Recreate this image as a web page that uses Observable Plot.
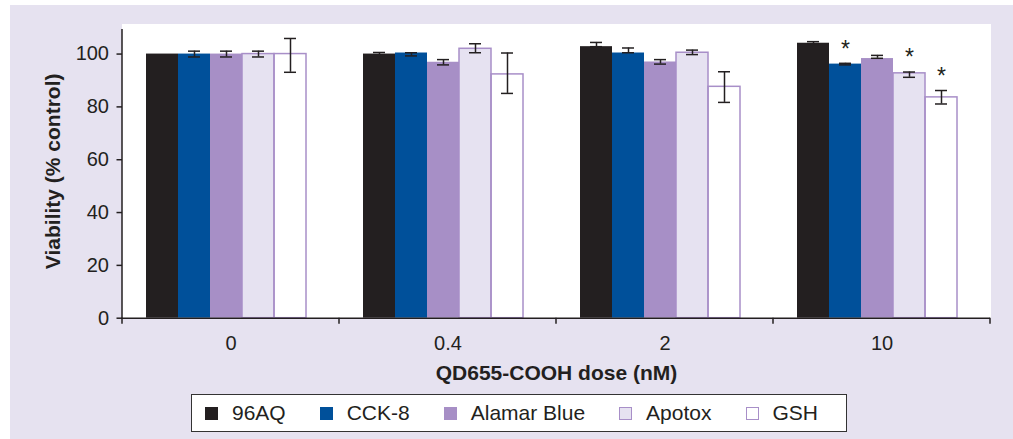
<!DOCTYPE html>
<html>
<head>
<meta charset="utf-8">
<script src="https://cdn.jsdelivr.net/npm/d3@7"></script>
<script src="https://cdn.jsdelivr.net/npm/@observablehq/plot@0.6"></script>
<style>
  body { margin: 0; background: #ffffff; font-family: "Liberation Sans", Arial, sans-serif; }
  #panel { position: absolute; left: 10px; top: 5px; width: 1003px; height: 434px; background: #e6e2f0; overflow: hidden; }
  #chart { position: absolute; left: 0; top: 0; }
  #legend { position: absolute; left: 181px; top: 389px; width: 656px; height: 38px; box-sizing: border-box;
            border: 1.5px solid #333; background: #fff; display: flex; align-items: center; padding-left: 13px;
            font-size: 21px; color: #231f20; gap: 34px; }
  .item { display: flex; align-items: center; }
  .sw { width: 13px; height: 13px; box-sizing: border-box; margin-right: 14px; }
  [aria-label="y-axis label"] text, [aria-label="fx-axis label"] text { font-weight: bold; font-size: 21px; }
</style>
</head>
<body>
<div id="panel">
  <div id="chart"></div>
  <div id="legend"></div>
</div>
<script>
// ---- data ----
const doses = ["0", "0.4", "2", "10"];
const methods = ["96AQ", "CCK-8", "Alamar Blue", "Apotox", "GSH"];
// mean viability (% control), rows = methods, columns = doses
const means = [
  [100, 100, 102.8, 104.1],
  [100, 100.4, 100.4, 96.2],
  [100, 96.9, 97.0, 98.3],
  [100, 102.0, 100.5, 92.7],
  [100, 92.3, 87.6, 83.6]
];
// lower / upper ends of the error bars
const errLow = [
  [100, 99.4, 102.8, 103.5],
  [98.9, 99.3, 100.5, 95.9],
  [98.9, 95.9, 96.2, 98.4],
  [98.9, 100.5, 99.8, 91.2],
  [93.1, 85.1, 81.7, 81.1]
];
const errHigh = [
  [100, 100.6, 104.4, 104.7],
  [101.1, 100.5, 102.3, 96.5],
  [101.1, 97.9, 97.9, 99.5],
  [101.1, 103.9, 101.5, 93.2],
  [105.9, 100.4, 93.3, 86.2]
];
// significance markers (*)
const significant = [
  [false, false, false, false],
  [false, false, false, true],
  [false, false, false, false],
  [false, false, false, true],
  [false, false, false, true]
];
const yTicks = [0, 20, 40, 60, 80, 100];

// ---- build rows ----
const rows = [];
methods.forEach((m, i) => doses.forEach((d, j) => rows.push({
  method: m, dose: d, mean: means[i][j], lo: errLow[i][j], hi: errHigh[i][j], sig: significant[i][j]
})));

const fillColors = ["#231f20", "#00509a", "#a78fc6", "#e6e2f1", "#ffffff"];
const outline = "#a88fc8";
const ink = "#231f20";

const errRows = rows.filter(r => r.hi > r.lo);

const plot = Plot.plot({
  width: 1003,
  height: 385,
  marginLeft: 112,
  marginRight: 23,
  marginTop: 19,
  marginBottom: 72.3,
  style: { background: "transparent", fontFamily: "Liberation Sans, Arial, sans-serif", fontSize: "20px", color: ink },
  fx: { domain: doses, padding: 0, label: null },
  x: { domain: methods, paddingInner: 0, paddingOuter: 0.86, align: 0.42, axis: null },
  y: { domain: [0, 109.3], insetTop: 5, axis: null },
  color: { domain: methods, range: fillColors },
  marks: [
    Plot.frame({ fill: "white", stroke: "white", strokeWidth: 1 }),
    Plot.axisY({ ticks: yTicks, tickSize: 5.5, tickPadding: 8, fontSize: 20, stroke: ink, strokeWidth: 1.5,
                 label: "Viability (% control)", labelAnchor: "center", labelOffset: 77, labelArrow: "none" }),
    Plot.axisFx({ anchor: "bottom", tickSize: 0, tickPadding: 18, fontSize: 20, label: "QD655-COOH dose (nM)",
                  labelAnchor: "center", labelOffset: 62, labelArrow: "none" }),
    Plot.barY(rows, { fx: "dose", x: "method", y: "mean", fill: "method" }),
    Plot.barY(rows.filter(r => r.method === "Apotox" || r.method === "GSH"),
              { fx: "dose", x: "method", y: "mean", fill: "none", stroke: outline, strokeWidth: 1.5 }),
    Plot.ruleX(errRows, { fx: "dose", x: "method", y1: "lo", y2: "hi", stroke: ink, strokeWidth: 1.5 }),
    Plot.tickY(errRows, { fx: "dose", x: "method", y: "lo", stroke: ink, strokeWidth: 1.5, insetLeft: 10, insetRight: 10 }),
    Plot.tickY(errRows, { fx: "dose", x: "method", y: "hi", stroke: ink, strokeWidth: 1.5, insetLeft: 10, insetRight: 10 }),
    Plot.text(rows.filter(r => r.sig), { fx: "dose", x: "method", y: "hi", text: () => "*", dy: -14, fontSize: 23, fill: ink }),
    Plot.ruleY([0], { stroke: ink, strokeWidth: 1.5 })
  ]
});

// axis line on the left and category-boundary ticks on the x axis, from Plot's own scales
const fx = plot.scale("fx");
const ys = plot.scale("y");
const svg = d3.select(plot);
const g = svg.append("g").attr("stroke", ink).attr("stroke-width", 1.5);
const xLeft = fx.apply(doses[0]);
g.append("line").attr("x1", xLeft).attr("x2", xLeft).attr("y1", ys.apply(0) + 1).attr("y2", ys.apply(ys.domain[1]));
const bounds = doses.map(d => fx.apply(d)).concat([fx.apply(doses[doses.length - 1]) + fx.bandwidth]);
bounds.forEach(b => g.append("line").attr("x1", b).attr("x2", b).attr("y1", ys.apply(0)).attr("y2", ys.apply(0) + 6));

document.getElementById("chart").appendChild(plot);

// legend
const legend = document.getElementById("legend");
methods.forEach((m, i) => {
  const item = document.createElement("div");
  item.className = "item";
  const sw = document.createElement("span");
  sw.className = "sw";
  sw.style.background = fillColors[i];
  sw.style.border = i >= 3 ? `1.5px solid ${outline}` : "none";
  const t = document.createElement("span");
  t.textContent = m;
  item.appendChild(sw);
  item.appendChild(t);
  legend.appendChild(item);
});
</script>
</body>
</html>
